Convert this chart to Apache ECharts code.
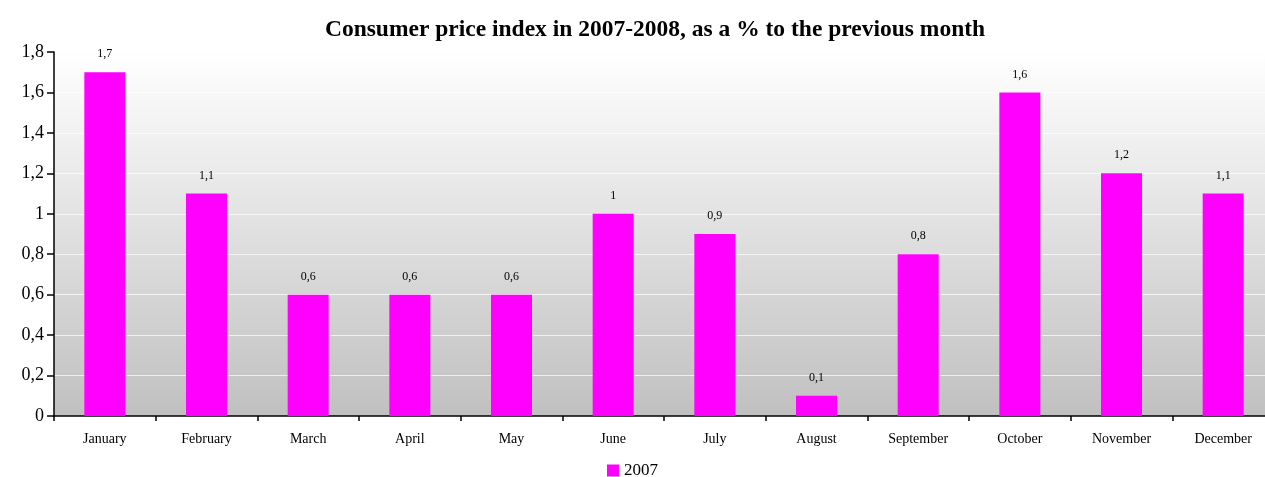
<!DOCTYPE html>
<html><head><meta charset="utf-8">
<script src="https://cdn.jsdelivr.net/npm/echarts@6/dist/echarts.min.js"></script>
<style>html,body{margin:0;padding:0;background:#fff}#c{width:1265px;height:477px}</style>
</head><body><div id="c"></div>
<script>
const categories = ["January","February","March","April","May","June","July","August","September","October","November","December"];
const values2007 = [1.7,1.1,0.6,0.6,0.6,1,0.9,0.1,0.8,1.6,1.2,1.1];
const seriesName = "2007";
const titleText = "Consumer price index in 2007-2008, as a % to the previous month";
const fmt = v => String(v).replace('.', ',');
const chart = echarts.init(document.getElementById('c'), null, {renderer:'canvas'});
chart.setOption({
  animation:false,
  textStyle:{fontFamily:'Liberation Serif'},
  title:{text:titleText,left:650,textAlign:'center',top:13,textStyle:{fontFamily:'Liberation Serif',fontSize:23.5,fontWeight:'bold',color:'#000'}},
  legend:{top:457,left:'center',itemWidth:12,itemHeight:12,itemGap:5,data:[{name:seriesName,icon:'rect'}],textStyle:{fontFamily:'Liberation Serif',fontSize:17,color:'#000'}},
  grid:{left:54,width:1220,top:52,height:364,show:true,borderWidth:0,outerBoundsMode:'none',containLabel:false,
    backgroundColor:{type:'linear',x:0,y:0,x2:0,y2:1,colorStops:[{offset:0,color:'#ffffff'},{offset:1,color:'#c0c0c0'}]}},
  xAxis:{type:'category',data:categories,
    axisLine:{lineStyle:{color:'#000',width:1.5}},
    axisTick:{show:true,alignWithLabel:false,length:5,lineStyle:{color:'#000',width:1.5}},
    axisLabel:{fontFamily:'Liberation Serif',fontSize:14,color:'#000',margin:16}},
  yAxis:{type:'value',min:0,max:1.8,interval:0.2,
    axisLine:{show:true,lineStyle:{color:'#000',width:1.5}},
    axisTick:{show:true,length:7,lineStyle:{color:'#000',width:1.5}},
    splitLine:{show:true,lineStyle:{color:'rgba(255,255,255,0.7)',width:1}},
    axisLabel:{fontFamily:'Liberation Serif',fontSize:18,color:'#000',margin:10,formatter:v=>fmt(Math.round(v*10)/10)}},
  series:[{name:seriesName,type:'bar',data:values2007,barWidth:41,
    itemStyle:{color:'#ff00ff'},
    label:{show:true,position:'top',distance:12,fontFamily:'Liberation Serif',fontSize:12,color:'#000',formatter:p=>fmt(p.value)}}]
});
</script></body></html>
